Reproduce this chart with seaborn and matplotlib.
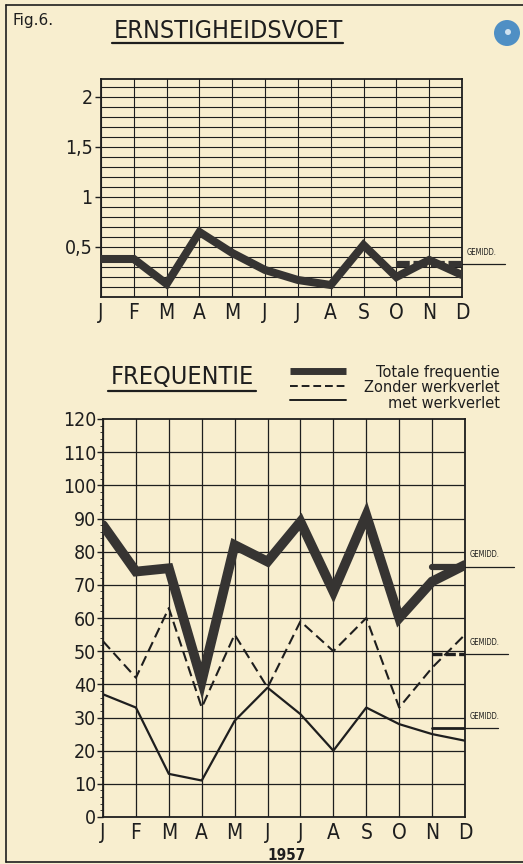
import numpy as np
import pandas as pd
import matplotlib
matplotlib.use('Agg')
import matplotlib.pyplot as plt
from matplotlib.lines import Line2D
from matplotlib.patches import Ellipse
import seaborn as sns

# ─── data ─────────────────────────────────────────────────────────────────────
months = ['J', 'F', 'M', 'A', 'M', 'J', 'J', 'A', 'S', 'O', 'N', 'D']
ernst = [0.38, 0.38, 0.13, 0.65, 0.44, 0.27, 0.17, 0.12, 0.52, 0.20, 0.37, 0.22]
ernst_avg = 0.33

totale = [88, 74, 75, 41, 82, 77, 89, 68, 91, 60, 71, 76]
zonder = [53, 42, 63, 33, 55, 39, 59, 50, 60, 33, 45, 55]
met = [37, 33, 13, 11, 29, 39, 31, 20, 33, 28, 25, 23]
totale_avg = 75.5
zonder_avg = 49
met_avg = 26.8

legend_labels = ['Totale frequentie', 'Zonder werkverlet', 'met werkverlet']

# ─── style ────────────────────────────────────────────────────────────────────
PAPER = '#f8eecf'
INK = '#1e1e1e'
THICK = '#363432'

sns.set_style('white')
plt.rcParams.update({
    'font.family': ['DejaVu Sans'],
    'font.stretch': 'condensed',
    'axes.facecolor': PAPER, 'figure.facecolor': PAPER,
    'axes.edgecolor': INK, 'text.color': INK,
    'xtick.color': INK, 'ytick.color': INK,
})

x = np.arange(len(months))
df = pd.DataFrame({'x': x, 'ernst': ernst, 'totale': totale,
                   'zonder': zonder, 'met': met})

W, H = 523, 864
def fx(px): return px / W
def fy(py): return 1 - py / H

fig = plt.figure(figsize=(5.23, 8.64), dpi=100)

# ─── frame + header ───────────────────────────────────────────────────────────
fig.add_artist(Line2D([fx(6), fx(6)], [fy(5), fy(862)], color=INK, lw=1.2))
fig.add_artist(Line2D([fx(6), 1], [fy(5), fy(5)], color=INK, lw=1.2))
fig.add_artist(Line2D([fx(6), 1], [fy(862), fy(862)], color=INK, lw=1.2))
fig.add_artist(Ellipse((fx(507), fy(33)), 26 / W, 26 / H, transform=fig.transFigure,
                       facecolor='#4f8fc4', edgecolor='none'))
fig.add_artist(Ellipse((fx(508), fy(32)), 6 / W, 6 / H, transform=fig.transFigure,
                       facecolor='#cfe2f0', edgecolor='none'))

fig.text(fx(12), fy(21), 'Fig.6.', fontsize=11, fontstretch='normal',
         va='center', ha='left')
fig.text(fx(228), fy(31), 'ERNSTIGHEIDSVOET', fontsize=18, va='center', ha='center')
fig.add_artist(Line2D([fx(112), fx(343)], [fy(43), fy(43)], color=INK, lw=1.6))

# ─── top chart: ernstigheidsvoet ──────────────────────────────────────────────
ax1 = fig.add_axes([fx(101), fy(297), 361 / W, 218 / H])
ax1.set_xlim(0, 11)
ax1.set_ylim(0, 2.18)
for yv in np.arange(0.1, 2.15, 0.1):
    ax1.axhline(yv, color=INK, lw=0.8, zorder=1)
for xv in x:
    ax1.axvline(xv, color=INK, lw=0.8, zorder=1)
sns.lineplot(data=df, x='x', y='ernst', ax=ax1, color=THICK, lw=5.8,
             solid_joinstyle='miter', zorder=4, legend=False)
ax1.plot([9, 11], [ernst_avg, ernst_avg], color=THICK, lw=4.5,
         ls=(0, (2.2, 0.6)), zorder=3)
ax1.plot([11, 12.3], [ernst_avg, ernst_avg], color=INK, lw=0.9, clip_on=False)
ax1.text(11.15, ernst_avg + 0.07, 'GEMIDD.', fontsize=5.5, ha='left', va='bottom')
ax1.set_yticks([0.5, 1, 1.5, 2])
ax1.set_yticklabels(['0,5', '1', '1,5', '2'], fontsize=14)
ax1.set_xticks(x)
ax1.set_xticklabels(months, fontsize=15)
ax1.tick_params(axis='y', length=4, width=1, pad=2, direction='out', left=True)
ax1.tick_params(axis='x', length=0, pad=4)
ax1.set_xlabel('')
ax1.set_ylabel('')
for s in ax1.spines.values():
    s.set_linewidth(1.3)

# ─── bottom chart: frequentie ─────────────────────────────────────────────────
fig.text(fx(182), fy(377), 'FREQUENTIE', fontsize=18, va='center', ha='center')
fig.add_artist(Line2D([fx(108), fx(256)], [fy(391), fy(391)], color=INK, lw=1.6))

leg_y = [371, 386, 400]
leg_styles = [dict(color=THICK, lw=5, solid_capstyle='butt'),
              dict(color=INK, lw=1.4, ls=(0, (4, 2))),
              dict(color=INK, lw=1.4)]
for yy, st in zip(leg_y, leg_styles):
    fig.add_artist(Line2D([fx(290), fx(346)], [fy(yy), fy(yy)], **st))
fig.text(fx(500), fy(388), '\n'.join(legend_labels), fontsize=10.5,
         fontstretch='normal', ha='right', va='center', multialignment='right',
         linespacing=1.0)

ax2 = fig.add_axes([fx(103), fy(817), 362 / W, 398 / H])
ax2.set_xlim(0, 11)
ax2.set_ylim(0, 120)
for yv in np.arange(10, 120, 10):
    ax2.axhline(yv, color=INK, lw=0.9, zorder=1)
for xv in x:
    ax2.axvline(xv, color=INK, lw=0.9, zorder=1)

sns.lineplot(data=df, x='x', y='totale', ax=ax2, color=THICK, lw=7,
             solid_joinstyle='miter', zorder=3, legend=False)
sns.lineplot(data=df, x='x', y='zonder', ax=ax2, color=INK, lw=1.5,
             zorder=4, legend=False)
ax2.lines[-1].set_linestyle((0, (5, 2.5)))
sns.lineplot(data=df, x='x', y='met', ax=ax2, color=INK, lw=1.6,
             zorder=4, legend=False)

# averages
ax2.plot([10, 11], [totale_avg, totale_avg], color=THICK, lw=4.5, zorder=3)
ax2.plot([11, 12.5], [totale_avg, totale_avg], color=INK, lw=0.9, clip_on=False)
ax2.text(11.15, totale_avg + 2.2, 'GEMIDD.', fontsize=5.5, ha='left', va='bottom')
ax2.plot([10, 11], [zonder_avg, zonder_avg], color=INK, lw=2.4,
         ls=(0, (3, 1)), zorder=4)
ax2.plot([11, 12.3], [zonder_avg, zonder_avg], color=INK, lw=0.9, clip_on=False)
ax2.text(11.15, zonder_avg + 2.2, 'GEMIDD.', fontsize=5.5, ha='left', va='bottom')
ax2.plot([10, 11], [met_avg, met_avg], color=INK, lw=2.0, zorder=4)
ax2.plot([11, 12.0], [met_avg, met_avg], color=INK, lw=0.9, clip_on=False)
ax2.text(11.15, met_avg + 2.2, 'GEMIDD.', fontsize=5.5, ha='left', va='bottom')

ax2.set_yticks(np.arange(0, 121, 10))
ax2.set_yticklabels([str(v) for v in range(0, 121, 10)], fontsize=14)
ax2.set_yticks(np.arange(0, 121, 2), minor=True)
ax2.set_xticks(x)
ax2.set_xticklabels(months, fontsize=15)
ax2.tick_params(axis='y', which='major', length=4, width=1, pad=1, left=True)
ax2.tick_params(axis='y', which='minor', length=2.5, width=0.6, left=True)
ax2.tick_params(axis='x', length=0, pad=4)
ax2.set_xlabel('')
ax2.set_ylabel('')
for s in ax2.spines.values():
    s.set_linewidth(1.3)

fig.text(fx(287), fy(855), '1957', fontsize=11, fontweight='bold',
         ha='center', va='center')

plt.savefig('out.png', dpi=100, facecolor=PAPER)
